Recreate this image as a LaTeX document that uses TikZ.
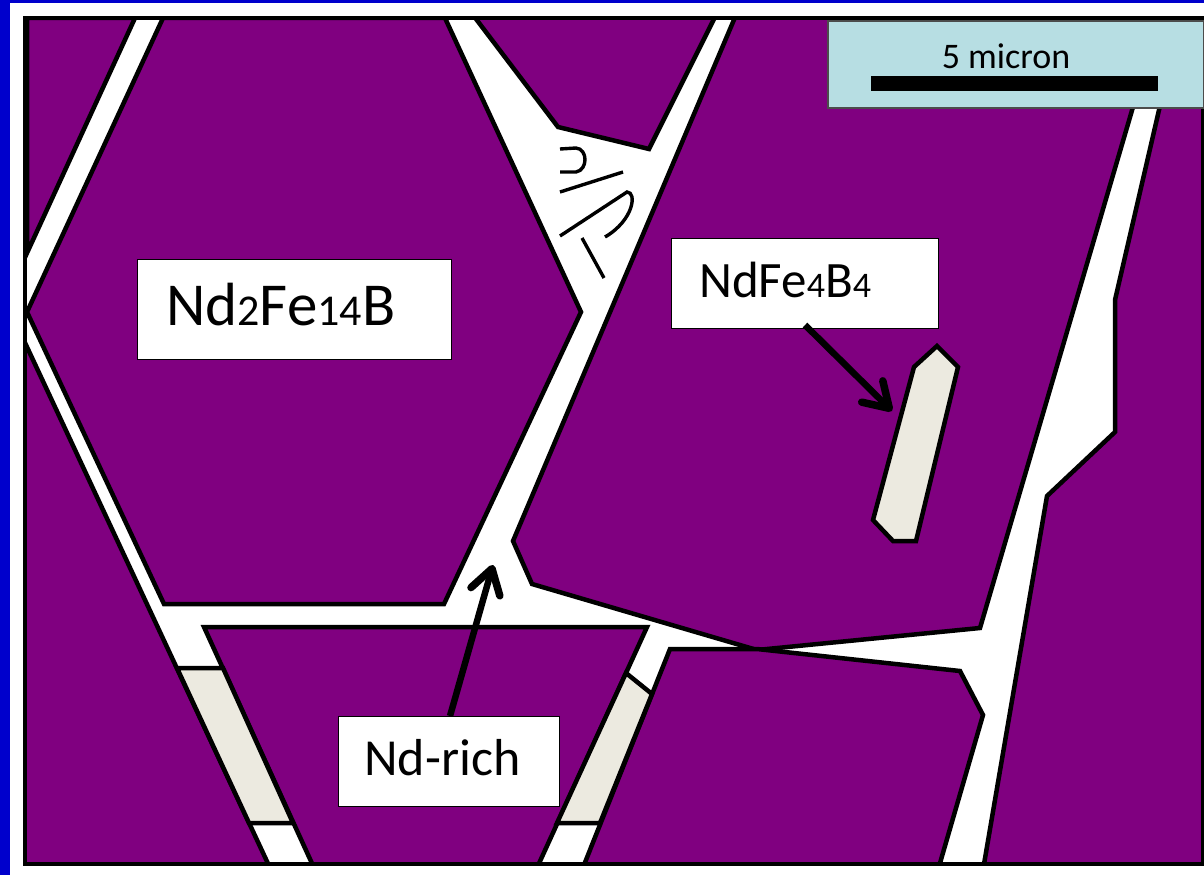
\documentclass[tikz,border=0pt]{standalone}
\usepackage{fontspec}
\setmainfont{Carlito}
\usetikzlibrary{arrows.meta}
\definecolor{grain}{RGB}{128,0,128}
\definecolor{edge}{RGB}{0,0,204}
\definecolor{phase}{RGB}{236,234,224}
\definecolor{scalebg}{RGB}{183,222,227}
\tikzset{
  grainshape/.style={fill=grain,draw=black,line width=4.5pt,line join=miter},
  stripshape/.style={fill=phase,draw=black,line width=4.5pt,line join=miter},
  crack/.style={draw=black,line width=3.4pt,line cap=butt},
  labelbox/.style={draw=black,fill=white,line width=1.8pt,inner sep=0pt,anchor=north west},
  pointer/.style={draw=black,line width=6.5pt,-{Straight Barb[length=24pt,width=30pt,line width=7.5pt,round]}},
}
\newcommand{\lowdigit}[2][22pt]{{\fontsize{#1}{#1}\selectfont #2}}
\begin{document}
\begin{tikzpicture}[x=1pt,y=-1pt]
\useasboundingbox (0,0) rectangle (1204,875);
\fill[edge] (0,0) rectangle (1204,875);
\fill[white] (10,3) rectangle (1204,875);
\begin{scope}
\clip (25,18) rectangle (1202,864);
\draw[grainshape] (27,18) -- (135,18) -- (27,253) -- cycle;
\draw[grainshape] (163,18) -- (445,18) -- (581,312) -- (444,604) -- (164,604) -- (27,312) -- cycle;
\draw[grainshape] (473,15) -- (558,127) -- (649,149) -- (716,15) -- cycle;
\draw[grainshape] (736,15) -- (513,541) -- (532,584) -- (757,650) -- (980,628) -- (1160,15) -- cycle;
\draw[grainshape] (1181,15) -- (1115,300) -- (1115,432) -- (1047,496) -- (983,870) -- (1210,870) -- (1210,15) -- cycle;
\draw[grainshape] (670,649) -- (757,649) -- (960,671) -- (983,715) -- (938,870) -- (582,870) -- cycle;
\draw[grainshape] (204,627) -- (647,627) -- (536,870) -- (315,870) -- cycle;
\draw[grainshape] (20,332) -- (271,870) -- (20,870) -- cycle;
\draw[stripshape] (177,668) -- (223,668) -- (293,823) -- (249,823) -- cycle;
\draw[stripshape] (626,673) -- (652,694) -- (600,823) -- (557,823) -- cycle;
\draw[stripshape] (937,346) -- (958,367) -- (916,541) -- (893,541) -- (873,520) -- (914,367) -- cycle;
\end{scope}
\draw[crack] (560,149) -- (576,148) .. controls (588,149) and (588,170) .. (576,172) -- (560,172);
\draw[crack] (560,192) -- (623,172);
\draw[crack] (560,236) -- (627,192) .. controls (637,192) and (634,220) .. (605,237);
\draw[crack] (582,238) -- (604,278);
\draw[draw=black,line width=4pt] (25,18) rectangle (1203,864);
\node[labelbox,minimum width=314pt,minimum height=100pt] (phaseA) at (136.5,258.5) {};
\node[anchor=base west,inner sep=0pt,font=\fontsize{61pt}{61pt}\selectfont] (phaseAtext) at (166,325) {Nd\lowdigit[44pt]{2}Fe\lowdigit[44pt]{14}B};
\node[labelbox,minimum width=267pt,minimum height=90pt] (phaseB) at (670.5,237.5) {};
\node[anchor=base west,inner sep=0pt,font=\fontsize{51pt}{51pt}\selectfont] (phaseBtext) at (699,297) {NdFe\lowdigit[36pt]{4}B\lowdigit[36pt]{4}};
\node[labelbox,minimum width=221pt,minimum height=90pt] (phaseC) at (337.5,715.5) {};
\node[anchor=base west,inner sep=0pt,font=\fontsize{52pt}{52pt}\selectfont] (phaseCtext) at (364,775) {Nd-rich};
\node[labelbox,draw=black!70,fill=scalebg,minimum width=376pt,minimum height=87pt] (scalebox) at (827,20) {};
\node[anchor=base,inner sep=0pt,font=\fontsize{36pt}{36pt}\selectfont] (scaletext) at (1006,68) {5 micron};
\node[fill=black,inner sep=0pt,minimum width=287pt,minimum height=15pt] (scalebar) at (1014.5,83.5) {};
\coordinate (tipB) at (892,411);
\coordinate (tipC) at (493,565);
\coordinate (startB) at (805,325);
\coordinate (startC) at (450,716);
\draw[pointer] (startB) -- (tipB);
\draw[pointer] (startC) -- (tipC);
\end{tikzpicture}
\end{document}
